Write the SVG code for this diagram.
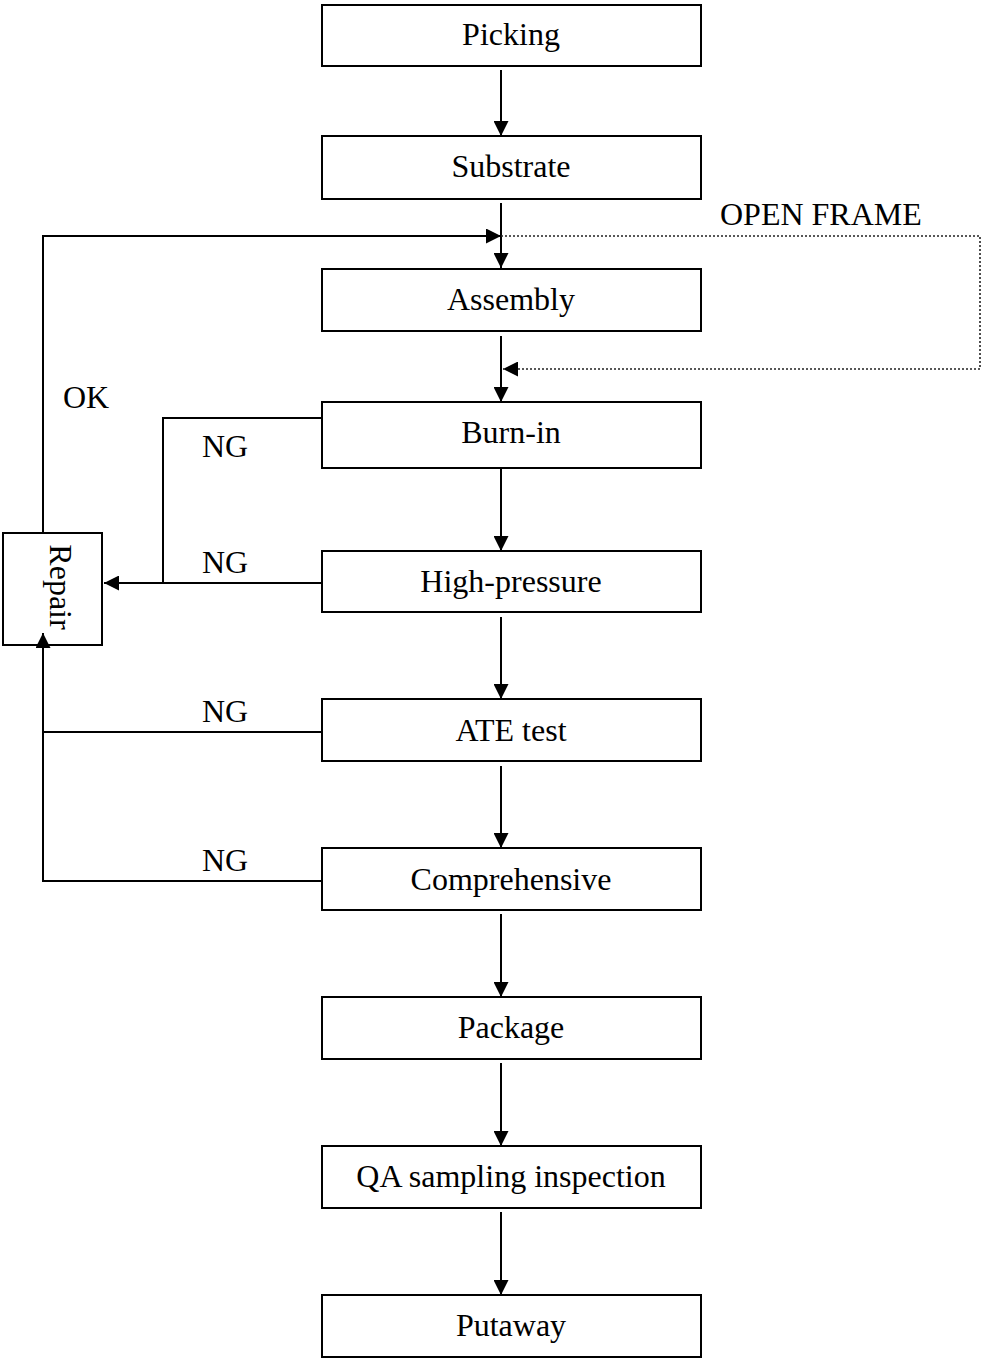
<svg xmlns="http://www.w3.org/2000/svg" width="982" height="1358" viewBox="0 0 982 1358">
  <style>
    .box { fill: #fff; stroke: #000; stroke-width: 2; }
    .label { font-family: "Liberation Serif", "Times New Roman", serif; font-size: 32px; fill: #000; }
    .center { text-anchor: middle; }
    .wire { fill: none; stroke: #000; stroke-width: 2; }
    .dotted { fill: none; stroke: #222; stroke-width: 1.6; stroke-dasharray: 2 2; }
  </style>
  <defs>
    <marker id="arrow" markerUnits="userSpaceOnUse" markerWidth="16" markerHeight="15" refX="15" refY="7.5" orient="auto">
      <path d="M0,0 L15,7.5 L0,15 Z" fill="#000"/>
    </marker>
  </defs>
  <rect width="982" height="1358" fill="#fff"/>

  <!-- process steps -->
  <g id="picking">
    <rect class="box" x="322" y="5" width="379" height="61"/>
    <text class="label center" x="511" y="45">Picking</text>
  </g>
  <g id="substrate">
    <rect class="box" x="322" y="136" width="379" height="63"/>
    <text class="label center" x="511" y="177">Substrate</text>
  </g>
  <g id="assembly">
    <rect class="box" x="322" y="269" width="379" height="62"/>
    <text class="label center" x="511" y="310">Assembly</text>
  </g>
  <g id="burn-in">
    <rect class="box" x="322" y="402" width="379" height="66"/>
    <text class="label center" x="511" y="443">Burn-in</text>
  </g>
  <g id="high-pressure">
    <rect class="box" x="322" y="551" width="379" height="61"/>
    <text class="label center" x="511" y="592">High-pressure</text>
  </g>
  <g id="ate-test">
    <rect class="box" x="322" y="699" width="379" height="62"/>
    <text class="label center" x="511" y="741">ATE test</text>
  </g>
  <g id="comprehensive">
    <rect class="box" x="322" y="848" width="379" height="62"/>
    <text class="label center" x="511" y="890">Comprehensive</text>
  </g>
  <g id="package">
    <rect class="box" x="322" y="997" width="379" height="62"/>
    <text class="label center" x="511" y="1038">Package</text>
  </g>
  <g id="qa-sampling">
    <rect class="box" x="322" y="1146" width="379" height="62"/>
    <text class="label center" x="511" y="1187">QA sampling inspection</text>
  </g>
  <g id="putaway">
    <rect class="box" x="322" y="1295" width="379" height="62"/>
    <text class="label center" x="511" y="1336">Putaway</text>
  </g>

  <!-- repair station with vertical caption -->
  <g id="repair">
    <rect class="box" x="3" y="533" width="99" height="112"/>
    <text class="label center" transform="translate(50,587) rotate(90)">Repair</text>
  </g>

  <!-- connectors (drawn last so the arrowhead into Repair sits on top) -->
  <g id="connectors">
    <path class="wire" d="M501,70 V136" marker-end="url(#arrow)"/>
    <path class="wire" d="M501,203 V268" marker-end="url(#arrow)"/>
    <path class="wire" d="M43,533 V236 H501" marker-end="url(#arrow)"/>
    <path class="dotted" d="M501,236 H980 V369 H503" marker-end="url(#arrow)"/>
    <path class="wire" d="M501,336 V402" marker-end="url(#arrow)"/>
    <path class="wire" d="M501,468 V551" marker-end="url(#arrow)"/>
    <path class="wire" d="M322,418 H163 V583"/>
    <path class="wire" d="M322,583 H104" marker-end="url(#arrow)"/>
    <path class="wire" d="M501,617 V699" marker-end="url(#arrow)"/>
    <path class="wire" d="M322,732 H43 V633" marker-end="url(#arrow)"/>
    <path class="wire" d="M322,881 H43 V732"/>
    <path class="wire" d="M501,766 V848" marker-end="url(#arrow)"/>
    <path class="wire" d="M501,914 V997" marker-end="url(#arrow)"/>
    <path class="wire" d="M501,1063 V1146" marker-end="url(#arrow)"/>
    <path class="wire" d="M501,1212 V1295" marker-end="url(#arrow)"/>
  </g>

  <!-- connector labels -->
  <g id="edge-labels">
    <text class="label" x="720" y="225">OPEN FRAME</text>
    <text class="label" x="63" y="408">OK</text>
    <text class="label" x="202" y="457">NG</text>
    <text class="label" x="202" y="573">NG</text>
    <text class="label" x="202" y="722">NG</text>
    <text class="label" x="202" y="871">NG</text>
  </g>
</svg>
